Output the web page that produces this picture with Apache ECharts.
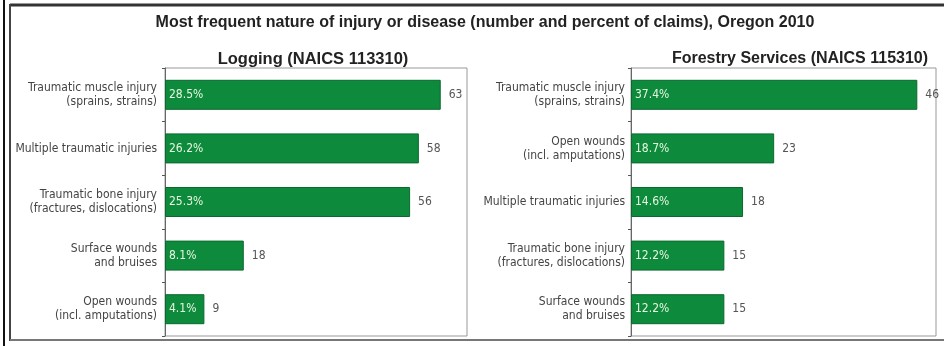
<!DOCTYPE html>
<html>
<head>
<meta charset="utf-8">
<script src="https://cdn.jsdelivr.net/npm/echarts@6/dist/echarts.min.js"></script>
<style>
  html, body { margin: 0; padding: 0; background: #fff; }
  #chart { width: 944px; height: 346px; }
</style>
</head>
<body>
<div id="chart"></div>
<script>
// Oregon 2010 workers' compensation claims: most frequent nature of injury
const mainTitle = 'Most frequent nature of injury or disease (number and percent of claims), Oregon 2010';

const loggingTitle = 'Logging (NAICS 113310)';
const loggingCategories = [
  'Traumatic muscle injury\n(sprains, strains)',
  'Multiple traumatic injuries',
  'Traumatic bone injury\n(fractures, dislocations)',
  'Surface wounds\nand bruises',
  'Open wounds\n(incl. amputations)'
];
const loggingClaims = [63, 58, 56, 18, 9];
const loggingPercent = [28.5, 26.2, 25.3, 8.1, 4.1];

const forestryTitle = 'Forestry Services (NAICS 115310)';
const forestryCategories = [
  'Traumatic muscle injury\n(sprains, strains)',
  'Open wounds\n(incl. amputations)',
  'Multiple traumatic injuries',
  'Traumatic bone injury\n(fractures, dislocations)',
  'Surface wounds\nand bruises'
];
const forestryClaims = [46, 23, 18, 15, 15];
const forestryPercent = [37.4, 18.7, 14.6, 12.2, 12.2];

const NARROW = '"Liberation Sans Narrow", "Arial Narrow", "DejaVu Sans Condensed", sans-serif';
const SANS = '"Liberation Sans", Arial, sans-serif';
const GREEN = '#0d8a3c';

const chart = echarts.init(document.getElementById('chart'), null, { renderer: 'canvas' });

function categoryAxis(gridIndex, data, margin) {
  return {
    type: 'category', gridIndex, data, inverse: true,
    axisLine: { show: true, lineStyle: { color: '#666', width: 1 } },
    axisTick: { show: true, length: 3, lineStyle: { color: '#555' } },
    axisLabel: {
      margin, fontFamily: NARROW, fontSize: 12, color: '#444',
      lineHeight: 14, align: 'right'
    }
  };
}

function valueAxis(gridIndex, max) {
  return {
    type: 'value', gridIndex, min: 0, max,
    axisLine: { show: false }, axisTick: { show: false },
    axisLabel: { show: false }, splitLine: { show: false }
  };
}

function barPair(idx, claims, percent) {
  return [
    {
      type: 'bar', xAxisIndex: idx, yAxisIndex: idx, data: claims,
      barWidth: 30, silent: true,
      itemStyle: { color: GREEN, borderColor: '#0a6a2e', borderWidth: 1 },
      label: {
        show: true, position: 'insideLeft', distance: 4,
        fontFamily: NARROW, fontSize: 12, color: '#e6f7e0',
        formatter: p => percent[p.dataIndex].toFixed(1) + '%'
      }
    },
    {
      type: 'bar', xAxisIndex: idx, yAxisIndex: idx, data: claims,
      barWidth: 30, barGap: '-100%', silent: true,
      itemStyle: { color: 'rgba(0,0,0,0)' },
      label: {
        show: true, position: 'right', distance: 8,
        fontFamily: NARROW, fontSize: 12, color: '#555',
        formatter: p => String(p.value)
      }
    }
  ];
}

chart.setOption({
  animation: false,
  backgroundColor: '#fff',
  title: [
    { text: mainTitle, left: 480, top: 10, textAlign: 'center',
      textStyle: { fontFamily: SANS, fontSize: 16, fontWeight: 'bold', color: '#222' } },
    { text: loggingTitle, left: 308, top: 46, textAlign: 'center',
      textStyle: { fontFamily: SANS, fontSize: 16.5, fontWeight: 'bold', color: '#222' } },
    { text: forestryTitle, left: 795, top: 46, textAlign: 'center',
      textStyle: { fontFamily: SANS, fontSize: 16, fontWeight: 'bold', color: '#222' } }
  ],
  grid: [
    { left: 165, right: 477, top: 68, bottom: 10, show: true, borderColor: '#999', borderWidth: 1 },
    { left: 631, right: 8, top: 68, bottom: 10, show: true, borderColor: '#999', borderWidth: 1 }
  ],
  xAxis: [valueAxis(0, 69), valueAxis(1, 49)],
  yAxis: [categoryAxis(0, loggingCategories, 8), categoryAxis(1, forestryCategories, 6)],
  series: [...barPair(0, loggingClaims, loggingPercent), ...barPair(1, forestryClaims, forestryPercent)],
  graphic: [
    // page frame: thin black rule on the left, dark inset border
    { type: 'line', shape: { x1: 4, y1: 0, x2: 4, y2: 346 }, style: { stroke: '#111', lineWidth: 2 } },
    { type: 'line', shape: { x1: 10, y1: 5, x2: 944, y2: 5 }, style: { stroke: '#333', lineWidth: 3 } },
    { type: 'line', shape: { x1: 10, y1: 4, x2: 10, y2: 341 }, style: { stroke: '#444', lineWidth: 2 } },
    { type: 'line', shape: { x1: 10, y1: 340, x2: 944, y2: 340 }, style: { stroke: '#777', lineWidth: 2 } }
  ]
});
</script>
</body>
</html>
